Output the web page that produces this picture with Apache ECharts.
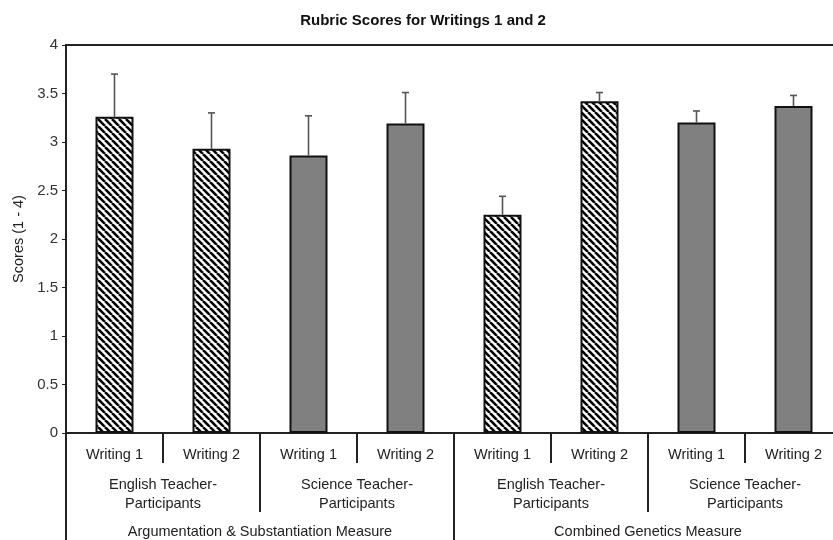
<!DOCTYPE html>
<html>
<head>
<meta charset="utf-8">
<script src="https://cdn.jsdelivr.net/npm/echarts@6/dist/echarts.min.js"></script>
<style>
  html, body { margin: 0; padding: 0; background: #fff; overflow: hidden; }
  /* the original figure is cut off at the right, so the chart is a bit wider than the window */
  #chart { width: 843px; height: 540px; }
</style>
</head>
<body>
<div id="chart"></div>
<script>
// categories (three levels)
var writings = ['Writing 1', 'Writing 2', 'Writing 1', 'Writing 2', 'Writing 1', 'Writing 2', 'Writing 1', 'Writing 2'];
var teacherGroups = ['English Teacher-\nParticipants', 'Science Teacher-\nParticipants', 'English Teacher-\nParticipants', 'Science Teacher-\nParticipants'];
var measures = ['Argumentation & Substantiation Measure', 'Combined Genetics Measure'];

// mean scores and error (upper bar only)
var means = [3.26, 2.93, 2.86, 3.19, 2.25, 3.42, 3.20, 3.37];
var errors = [0.44, 0.37, 0.41, 0.32, 0.19, 0.09, 0.12, 0.11];
var teacher = ['English', 'English', 'Science', 'Science', 'English', 'English', 'Science', 'Science'];

var chart = echarts.init(document.getElementById('chart'));

// diagonal hatch pattern for the English bars
function makeHatch() {
    var s = 7;
    var c = document.createElement('canvas');
    c.width = s;
    c.height = s;
    var ctx = c.getContext('2d');
    ctx.fillStyle = '#fff';
    ctx.fillRect(0, 0, s, s);
    ctx.strokeStyle = '#000';
    ctx.lineWidth = 2.6;
    for (var k = -s; k <= s; k += s) {
        ctx.beginPath();
        ctx.moveTo(k, 0);
        ctx.lineTo(k + s, s);
        ctx.stroke();
    }
    return c;
}
var hatch = { image: makeHatch(), repeat: 'repeat' };

var barData = means.map(function (v, i) {
    return {
        value: v,
        itemStyle: {
            color: teacher[i] === 'English' ? hatch : '#808080',
            borderColor: '#111',
            borderWidth: 2
        }
    };
});
var errData = means.map(function (v, i) { return [i, v, v + errors[i]]; });

var font = 'Liberation Sans, Arial, sans-serif';

function gridAt() {
    return { left: 66, right: 1, top: 45, bottom: 107, containLabel: false };
}

var option = {
    animation: false,
    title: {
        text: 'Rubric Scores for Writings 1 and 2',
        left: 418,
        textAlign: 'center',
        top: 8,
        textStyle: { fontFamily: font, fontSize: 15, fontWeight: 'bold', color: '#111' }
    },
    grid: [
        Object.assign(gridAt(), { show: true, borderColor: '#222', borderWidth: 2 }),
        gridAt(),
        gridAt()
    ],
    xAxis: [
        {
            type: 'category', gridIndex: 0, data: writings, position: 'bottom',
            axisLine: { lineStyle: { color: '#222', width: 2 } },
            axisTick: { show: true, length: 30, lineStyle: { color: '#222', width: 2 } },
            axisLabel: { interval: 0, margin: 13, fontSize: 14.5, lineHeight: 17, fontFamily: font, color: '#222' }
        },
        {
            type: 'category', gridIndex: 1, data: teacherGroups, position: 'bottom',
            axisLine: { show: false },
            axisTick: { show: true, length: 79, lineStyle: { color: '#222', width: 2 } },
            axisLabel: { interval: 0, margin: 42, fontSize: 14.5, lineHeight: 19, fontFamily: font, color: '#222' }
        },
        {
            type: 'category', gridIndex: 2, data: measures, position: 'bottom',
            axisLine: { show: false },
            axisTick: { show: true, length: 115, lineStyle: { color: '#222', width: 2 } },
            axisLabel: { interval: 0, margin: 90, fontSize: 14.5, lineHeight: 17, fontFamily: font, color: '#222' }
        }
    ],
    yAxis: [
        {
            type: 'value', gridIndex: 0, min: 0, max: 4, interval: 0.5,
            name: 'Scores (1 - 4)', nameLocation: 'middle', nameGap: 38, nameRotate: 90,
            nameTextStyle: { fontSize: 14.5, fontFamily: font, color: '#222' },
            axisLine: { show: true, lineStyle: { color: '#222', width: 2 } },
            axisTick: { show: true, length: 4, lineStyle: { color: '#222' } },
            axisLabel: { fontSize: 15, margin: 8, fontFamily: font, color: '#333' },
            splitLine: { show: false }
        },
        { type: 'value', gridIndex: 1, min: 0, max: 4, show: false },
        { type: 'value', gridIndex: 2, min: 0, max: 4, show: false }
    ],
    series: [
        {
            type: 'bar',
            xAxisIndex: 0,
            yAxisIndex: 0,
            barWidth: 38,
            data: barData
        },
        {
            type: 'custom',
            xAxisIndex: 0,
            yAxisIndex: 0,
            z: 5,
            data: errData,
            renderItem: function (params, api) {
                var lo = api.coord([api.value(0), api.value(1)]);
                var hi = api.coord([api.value(0), api.value(2)]);
                var style = { stroke: '#555', lineWidth: 1.6 };
                return {
                    type: 'group',
                    children: [
                        { type: 'line', shape: { x1: lo[0], y1: lo[1], x2: hi[0], y2: hi[1] }, style: style },
                        { type: 'line', shape: { x1: hi[0] - 3.5, y1: hi[1], x2: hi[0] + 3.5, y2: hi[1] }, style: style }
                    ]
                };
            }
        }
    ]
};

chart.setOption(option);
</script>
</body>
</html>
